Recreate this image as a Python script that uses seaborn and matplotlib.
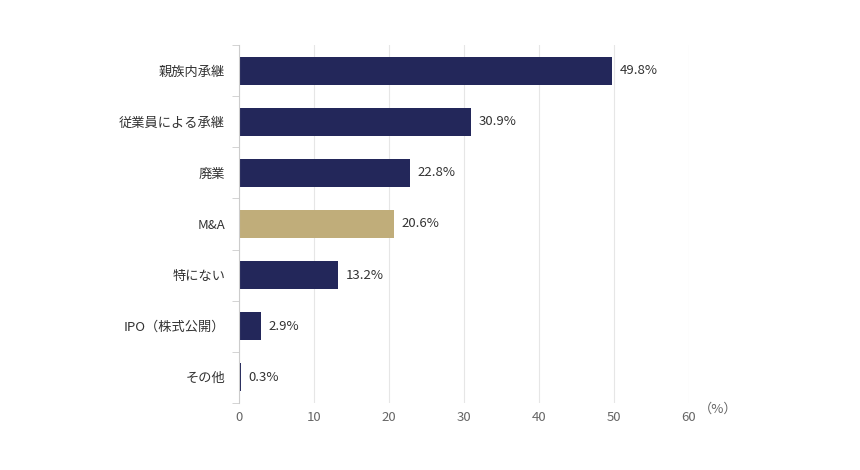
import matplotlib
matplotlib.use("Agg")
import matplotlib.pyplot as plt
import seaborn as sns
import pandas as pd
import numpy as np

categories = ["親族内承継", "従業員による承継", "廃業", "M&A", "特にない", "IPO（株式公開）", "その他"]
values = [49.8, 30.9, 22.8, 20.6, 13.2, 2.9, 0.3]
highlight = "M&A"
xticks = [0, 10, 20, 30, 40, 50, 60]

plt.rcParams["font.family"] = ["Noto Sans CJK JP", "DejaVu Sans"]
navy, gold = "#23275a", "#c0ad7a"
df = pd.DataFrame({"cat": categories, "val": values})
palette = {c: (gold if c == highlight else navy) for c in categories}

fig = plt.figure(figsize=(8.6, 4.7), dpi=100)
ax = fig.add_axes([0.278, 0.143, 0.523, 0.761])
sns.barplot(data=df, x="val", y="cat", hue="cat", palette=palette, order=categories,
            width=0.55, legend=False, ax=ax, saturation=1)
ax.set_xlim(0, 60)
ax.set_ylim(6.5, -0.5)
ax.set_xticks(xticks)
ax.set_xlabel(""); ax.set_ylabel("")
for s in ["top", "right", "bottom"]:
    ax.spines[s].set_visible(False)
ax.spines["left"].set_color("#cccccc")
ax.xaxis.grid(True, color="#e6e6e6", lw=0.8)
ax.set_axisbelow(True)
ax.tick_params(axis="x", length=0, colors="#666666", labelsize=9.5, pad=6)
ax.tick_params(axis="y", length=0, colors="#333333", labelsize=9.5, pad=10)
ax.set_yticks(np.arange(-0.5, 7, 1), minor=True)
ax.tick_params(axis="y", which="minor", length=5, color="#cccccc")
for i, v in enumerate(values):
    ax.text(v + 1.0, i, f"{v}%", va="center", ha="left", fontsize=9.5, color="#333333")
ax.text(61.3, 6.5, "（%）", transform=ax.transData, va="top", ha="left", fontsize=9.5, color="#666666")
ax.annotate("（%）", xy=(1.0, 0), xycoords="axes fraction", xytext=(8, -6),
            textcoords="offset points", va="top", ha="left", fontsize=9.5, color="#666666") if False else None
fig.savefig("out.png", dpi=100, facecolor="white")
